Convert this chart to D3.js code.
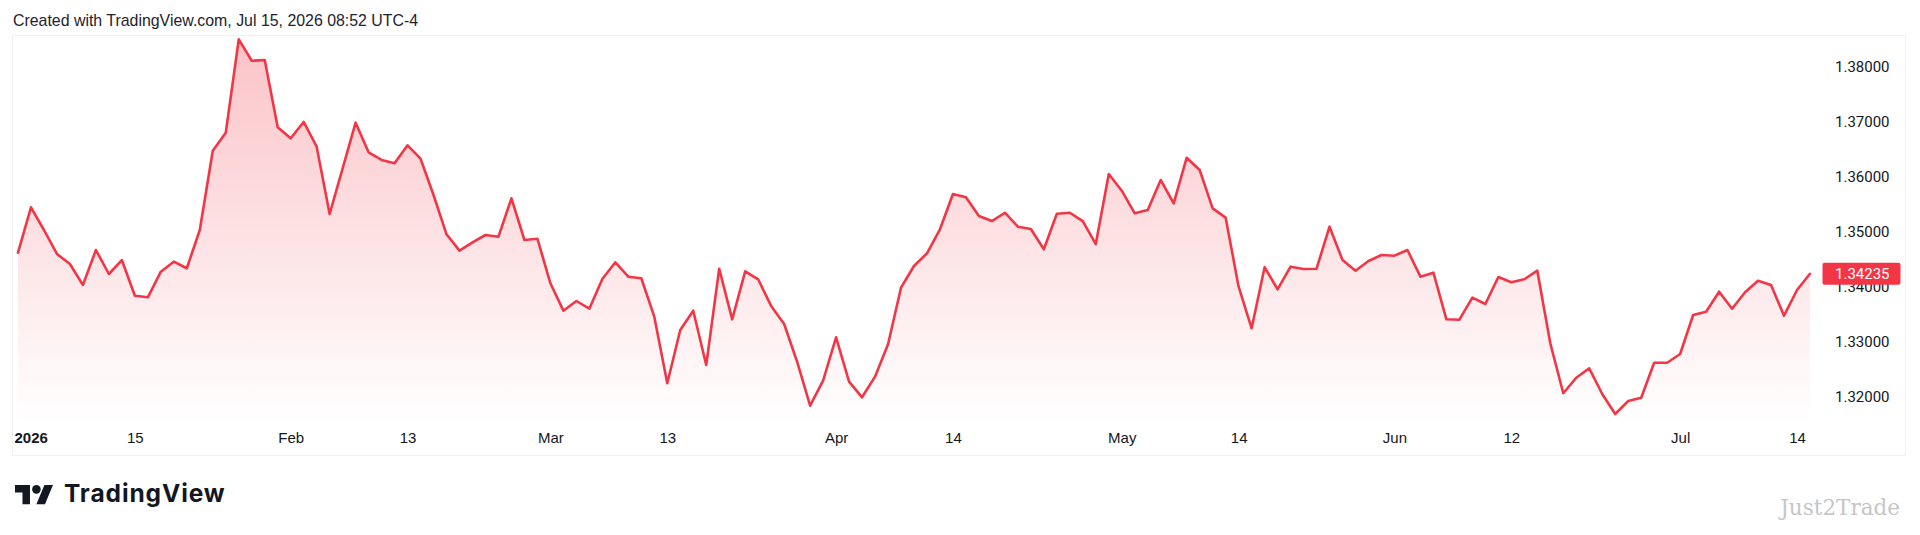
<!DOCTYPE html>
<html>
<head>
<meta charset="utf-8">
<script src="https://cdn.jsdelivr.net/npm/d3@7"></script>
<style>
  html, body { margin: 0; padding: 0; background: #ffffff; }
  svg { display: block; }
</style>
</head>
<body>
<svg id="chart" width="1920" height="535"></svg>
<script>
// ---- data ----
const startDay = "2026-01-02";
const endDay = "2026-07-15";
const closeValues = [
  1.34618, 1.35444, 1.35031, 1.34595, 1.34413, 1.34031, 1.34667, 1.34231, 1.34485, 1.33836,
  1.33807, 1.34273, 1.34455, 1.34335, 1.35031, 1.36473, 1.36800, 1.38498, 1.38109, 1.38122,
  1.36898, 1.36698, 1.36995, 1.36545, 1.35322, 1.36153, 1.36982, 1.36444, 1.36304, 1.36244,
  1.36571, 1.36327, 1.35667, 1.34953, 1.34655, 1.34807, 1.34940, 1.34909, 1.35607, 1.34849,
  1.34873, 1.34062, 1.33564, 1.33740, 1.33600, 1.34140, 1.34444, 1.34182, 1.34153, 1.33455,
  1.32244, 1.33213, 1.33564, 1.32576, 1.34327, 1.33407, 1.34280, 1.34135, 1.33649, 1.33322,
  1.32636, 1.31836, 1.32291, 1.33080, 1.32273, 1.31989, 1.32364, 1.32953, 1.33982, 1.34376,
  1.34607, 1.35044, 1.35685, 1.35625, 1.35285, 1.35194, 1.35345, 1.35091, 1.35049, 1.34680,
  1.35327, 1.35345, 1.35194, 1.34776, 1.36049, 1.35745, 1.35335, 1.35395, 1.35940, 1.35516,
  1.36345, 1.36122, 1.35425, 1.35255, 1.34000, 1.33244, 1.34353, 1.33953, 1.34364, 1.34322,
  1.34327, 1.35091, 1.34485, 1.34291, 1.34467, 1.34576, 1.34564, 1.34667, 1.34182, 1.34255,
  1.33407, 1.33400, 1.33800, 1.33685, 1.34176, 1.34080, 1.34135, 1.34291, 1.32971, 1.32062,
  1.32345, 1.32516, 1.32049, 1.31685, 1.31922, 1.31982, 1.32618, 1.32618, 1.32776, 1.33485,
  1.33545, 1.33909, 1.33600, 1.33898, 1.34109, 1.34031, 1.33473, 1.33940, 1.34235
];
const lastPrice = 1.34235;
const priceTicks = [1.32, 1.33, 1.34, 1.35, 1.36, 1.37, 1.38];
const timeTickDates = ["2026-01-02","2026-01-15","2026-02-02","2026-02-13","2026-03-02","2026-03-13","2026-04-01","2026-04-14","2026-05-01","2026-05-14","2026-06-01","2026-06-12","2026-07-01","2026-07-14"];
const timeTickLabels = ["2026","15","Feb","13","Mar","13","Apr","14","May","14","Jun","12","Jul","14"];
const titleText = "Created with TradingView.com, Jul 15, 2026 08:52 UTC-4";
const watermarkText = "Just2Trade";
const brandText = "TradingView";

// ---- build ----
const fmtKey = d3.utcFormat("%Y-%m-%d");
const parseKey = d3.utcParse("%Y-%m-%d");
const days = d3.utcDay.range(parseKey(startDay), d3.utcDay.offset(parseKey(endDay), 1))
  .filter(d => d.getUTCDay() !== 0 && d.getUTCDay() !== 6)
  .map(fmtKey);
const data = days.map((k, i) => ({ key: k, v: closeValues[i] }));

const RED = "#F23645";
const svg = d3.select("#chart");
svg.append("rect").attr("width", 1920).attr("height", 535).attr("fill", "#ffffff");

const defs = svg.append("defs");
const grad = defs.append("linearGradient").attr("id", "areaGrad")
  .attr("gradientUnits", "userSpaceOnUse").attr("x1", 0).attr("x2", 0).attr("y1", 38).attr("y2", 424);
grad.append("stop").attr("offset", "0").attr("stop-color", RED).attr("stop-opacity", 0.3);
grad.append("stop").attr("offset", "1").attr("stop-color", RED).attr("stop-opacity", 0.0);

// title
svg.append("text").attr("x", 13).attr("y", 26)
  .attr("font-family", "'Liberation Sans', Arial, sans-serif").attr("font-size", 15.9)
  .attr("fill", "#1e222d").text(titleText);

// pane border
svg.append("rect").attr("x", 12.5).attr("y", 35.5).attr("width", 1893).attr("height", 420)
  .attr("fill", "none").attr("stroke", "#eef0f3").attr("stroke-width", 1);

const x = d3.scalePoint().domain(days).range([18, 1810]);
const y = d3.scaleLinear().domain([1.32, 1.38]).range([396.7, 66.7]);

const area = d3.area().x(d => x(d.key)).y0(424).y1(d => y(d.v));
const line = d3.line().x(d => x(d.key)).y(d => y(d.v));

svg.append("path").datum(data).attr("d", area).attr("fill", "url(#areaGrad)");
svg.append("path").datum(data).attr("d", line).attr("fill", "none")
  .attr("stroke", RED).attr("stroke-width", 2.6).attr("stroke-linejoin", "round").attr("stroke-linecap", "round");

// price axis
const yAxis = d3.axisRight(y).tickValues(priceTicks).tickFormat(d3.format(".5f")).tickSize(0).tickPadding(0);
const gy = svg.append("g").attr("transform", "translate(1835,0)").call(yAxis);
gy.select(".domain").remove();
gy.selectAll("text").attr("font-family", "Roboto, sans-serif").attr("font-size", 15)
  .attr("fill", "#131722").attr("dy", "0.35em");

// last price label
const ly = y(lastPrice);
svg.append("rect").attr("x", 1822.5).attr("y", ly - 11).attr("width", 78).attr("height", 22)
  .attr("rx", 2).attr("fill", RED);
svg.append("text").attr("x", 1835).attr("y", ly).attr("dy", "0.35em")
  .attr("font-family", "Roboto, sans-serif").attr("font-size", 15).attr("fill", "#ffffff")
  .text(d3.format(".5f")(lastPrice));

// time axis
const labelOf = new Map(timeTickDates.map((d, i) => [d, timeTickLabels[i]]));
const xAxis = d3.axisBottom(x).tickValues(timeTickDates).tickFormat(d => labelOf.get(d)).tickSize(0).tickPadding(0);
const gx = svg.append("g").attr("transform", "translate(0,443)").call(xAxis);
gx.select(".domain").remove();
gx.selectAll("text").attr("font-family", "'Liberation Sans', Arial, sans-serif").attr("font-size", 15)
  .attr("fill", "#131722").attr("dy", null).attr("y", 0)
  .attr("font-weight", d => d === timeTickDates[0] ? "bold" : "normal")
  .attr("text-anchor", d => d === timeTickDates[0] ? "start" : "middle")
  .attr("x", d => d === timeTickDates[0] ? 14 - x(d) : 0);

// TradingView logo
const logo = svg.append("g").attr("transform", "translate(15,480.8) scale(1.07)");
logo.append("path").attr("d", "M14 22H7V11H0V4h14v18zM28 22h-8l7.5-18h8L28 22z").attr("fill", "#131722");
logo.append("circle").attr("cx", 20).attr("cy", 8).attr("r", 4).attr("fill", "#131722");
svg.append("text").attr("x", 64).attr("y", 502).attr("font-family", "Inter, sans-serif")
  .attr("font-weight", 700).attr("font-size", 24.5).attr("letter-spacing", 0.9)
  .attr("fill", "#131722").text(brandText);

// watermark
svg.append("text").attr("x", 1900).attr("y", 515).attr("text-anchor", "end")
  .attr("font-family", "'DejaVu Serif', serif").attr("font-size", 21.5).attr("fill", "#c6c6c6")
  .text(watermarkText);
</script>
</body>
</html>
